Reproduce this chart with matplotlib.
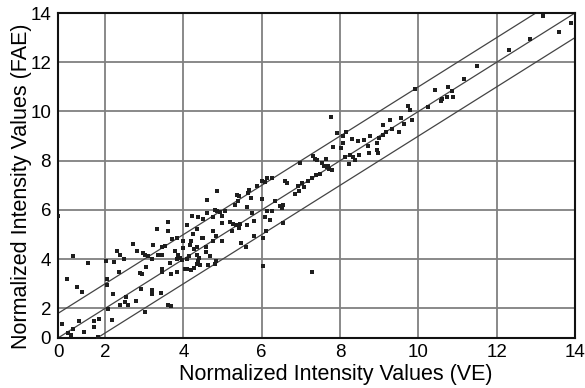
import matplotlib.pyplot as plt
import numpy as np

plt.rcParams['font.family'] = ['Liberation Sans', 'DejaVu Sans']

# normalized intensity values
ve = [1.19, 1.57, 1.04, 1.28, 1.42, 2.03, 2.04, 2.04, 2.23, 2.49, 2.31, 2.38, 2.71, 2.81, 3.02, 3.23,
      3.09, 3.36, 3.04, 2.89, 2.95, 2.36, 2.21, 2.92, 2.53, 2.51, 2.58, 2.38, 2.79, 3.19, 3.21, 3.43,
      3.02, 2.08, 2.17, 1.85, 1.72, 1.73, 1.34, 0.91, 1.19, 1.06, 1.13, 1.47, 1.81, 3.46, 0.81, 3.62,
      3.68,
      4.60, 4.23, 4.37, 4.61, 3.62, 4.10, 4.34, 3.32, 3.62, 4.25, 3.85, 3.70, 4.00, 4.19, 4.47, 3.53,
      2.98, 3.45, 3.19, 3.80, 3.87, 3.91, 3.85, 3.96, 4.09, 4.15, 4.34, 4.41, 4.64, 4.43, 4.04, 4.10,
      4.19, 4.27, 4.34, 4.37, 3.66, 3.85, 3.68, 3.45, 3.45,
      6.13, 6.00, 5.89, 5.68, 5.66, 5.43, 5.36, 4.87, 5.62, 6.00, 6.13, 5.75, 4.81, 4.87, 4.94, 5.06,
      4.51, 4.76, 4.99, 4.98, 5.19, 5.28, 5.34, 5.45, 5.43, 5.63, 5.80, 4.51, 4.76, 4.83, 4.76, 4.98,
      4.00, 4.17, 4.27, 4.36, 4.59, 4.59, 4.68, 4.83, 4.81, 5.46, 5.60, 5.80, 6.03, 6.11, 5.23,
      7.93, 7.83, 7.70, 7.59, 7.66, 7.73, 7.53, 7.42, 7.30, 7.36, 7.49, 7.39, 7.28, 6.98, 7.19, 7.02,
      7.08, 6.93, 6.96, 6.85, 6.60, 6.64, 6.26, 6.08, 5.32, 5.40, 5.72, 6.34, 6.55, 6.47, 6.51, 6.26,
      6.08, 6.21, 6.55, 6.03, 7.29, 7.79, 7.64,
      9.91, 9.74, 9.79, 7.76, 9.55, 9.28, 9.09, 9.63, 9.51, 9.32, 9.17, 9.11, 9.00, 8.95, 8.77, 8.60,
      8.47, 8.30, 8.15, 8.07, 8.02, 8.72, 8.75, 8.94, 8.98, 8.49, 8.34, 8.25, 8.13, 8.38, 8.24, 8.07,
      9.85,
      13.19, 13.91, 13.60, 12.85, 12.32, 11.51, 11.17, 10.76, 10.42, 10.85, 10.88, 10.72, 10.60,
      10.57, 10.25]
fae = [4.12, 3.83, 3.21, 2.89, 2.68, 3.91, 3.18, 2.97, 3.88, 3.99, 4.33, 4.19, 4.60, 4.33, 4.19, 4.56,
       4.12, 4.19, 3.69, 3.42, 3.38, 3.47, 2.57, 2.81, 2.47, 2.26, 2.16, 2.16, 2.32, 2.74, 2.57, 2.64,
       1.85, 1.96, 1.55, 1.59, 1.51, 1.26, 1.51, 1.35, 1.15, 1.01, 0.92, 1.04, 0.85, 4.50, 5.75, 2.16,
       2.09,
       6.40, 5.75, 5.72, 5.86, 5.52, 5.37, 5.23, 5.21, 5.14, 5.04, 4.87, 4.83, 4.73, 4.73, 4.87, 4.53,
       4.26, 4.19, 4.02, 4.33, 4.19, 4.06, 3.99, 3.96, 3.99, 4.15, 4.19, 4.06, 3.75, 3.75, 3.61, 3.61,
       3.58, 3.64, 3.79, 3.92, 3.83, 3.47, 3.38, 3.61, 3.47,
       7.30, 7.17, 6.96, 6.83, 6.70, 6.56, 6.59, 6.76, 6.11, 6.45, 5.95, 5.88, 5.99, 5.95, 5.91, 5.95,
       5.64, 5.72, 5.77, 5.48, 5.50, 5.45, 5.37, 5.45, 5.28, 5.37, 5.54, 4.87, 5.14, 4.93, 4.73, 4.73,
       4.46, 4.56, 4.42, 4.50, 4.50, 4.28, 4.12, 3.92, 3.80, 4.67, 4.50, 4.96, 4.87, 5.14, 5.14,
       9.13, 8.56, 7.80, 7.80, 7.75, 7.67, 7.91, 8.02, 8.21, 8.05, 7.48, 7.44, 7.30, 7.91, 7.17, 7.10,
       6.94, 6.96, 6.76, 6.63, 7.17, 7.10, 7.30, 7.13, 6.22, 6.35, 6.49, 6.35, 6.22, 6.15, 6.09, 5.95,
       5.72, 5.58, 5.48, 3.72, 3.47, 7.61, 8.05,
       10.92, 10.24, 10.08, 9.78, 9.74, 9.64, 9.47, 9.51, 9.17, 9.29, 9.16, 9.06, 8.93, 8.72, 9.02, 8.86,
       8.79, 8.89, 9.16, 8.99, 8.52, 8.59, 8.32, 8.42, 8.32, 8.25, 8.16, 8.25, 8.16, 8.02, 7.88, 8.70,
       9.64,
       13.86, 13.59, 13.21, 12.95, 12.51, 11.83, 11.32, 10.98, 10.89, 10.82, 10.59, 10.59, 10.51,
       10.41, 10.19]

lo, hi = 0.8, 14
ticks = [0.8, 2, 4, 6, 8, 10, 12, 14]
tick_labels = ['0', '2', '4', '6', '8', '10', '12', '14']
band = 1.0

fig = plt.figure(figsize=(5.85, 3.88), dpi=100)
ax = fig.add_axes([58 / 585, 50 / 388, 517 / 585, 325 / 388])

line = np.array([lo, hi])
for off in (-band, 0, band):
    ax.plot(line, line + off, color='#444444', lw=0.9, zorder=2)
ax.plot(ve, fae, 's', color='#1e1e1e', ms=3.4, mew=0, zorder=3)

ax.set_xlim(lo, hi)
ax.set_ylim(lo, hi)
ax.set_xticks(ticks)
ax.set_xticklabels(tick_labels)
ax.set_yticks(ticks)
ax.set_yticklabels(tick_labels)
ax.tick_params(length=0, labelsize=13.5)
ax.tick_params(axis='x', pad=4)
ax.tick_params(axis='y', pad=5)
ax.grid(color='#808080', lw=1.3)
ax.set_axisbelow(True)
for s in ax.spines.values():
    s.set_linewidth(1.5)
    s.set_color('#111111')

ax.set_xlabel('Normalized Intensity Values (VE)', fontsize=15.5)
ax.xaxis.set_label_coords(0.537, -0.08)
ax.set_ylabel('Normalized Intensity Values (FAE)', fontsize=15.5)
ax.yaxis.set_label_coords(-0.05, 0.468)

fig.savefig('out.png')
